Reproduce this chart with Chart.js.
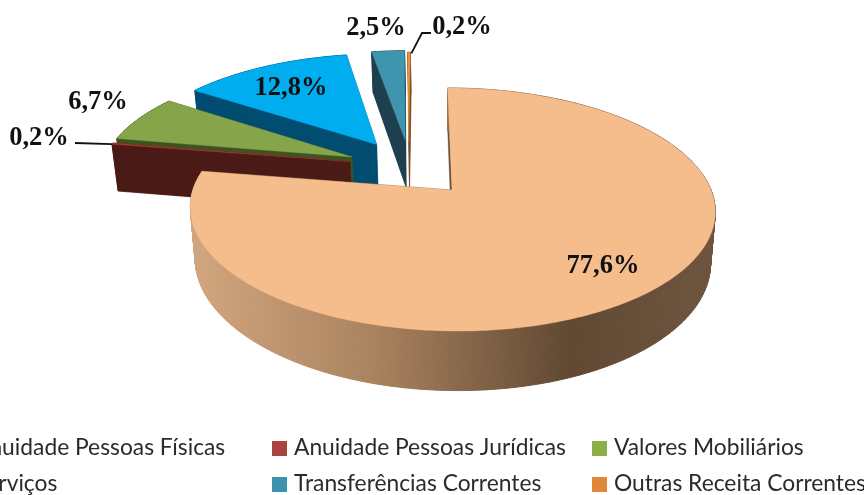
<!DOCTYPE html>
<html><head><meta charset="utf-8">
<style>html,body{margin:0;padding:0;background:#fff;overflow:hidden}canvas{display:block;filter:blur(0.45px)}</style>
<script src="https://cdn.jsdelivr.net/npm/chart.js@4"></script>
</head><body><canvas id="c" width="864" height="495"></canvas>
<script>
const categories = ['Anuidade Pessoas Físicas','Anuidade Pessoas Jurídicas','Valores Mobiliários','Serviços','Transferências Correntes','Outras Receita Correntes'];
const shares = [77.6,0.2,6.7,12.8,2.5,0.2];
const topColors = ['#F5BC8C','#A5392E','#86A44A','#00ADEF','#3F94AE','#E8933F'];
const wallColors = [null,'#4A1B16','#3F5222','#004D71','#1E3F4D','#7A4A20'];
const legendColors = ['#F79646','#AB4340','#8CAD47','#00ADEF','#3D93AE','#E0873A'];
const explodeU = [0,-0.405,-0.398,-0.302,-0.185,-0.17];
const explodeV = [0,-0.25,-0.292,-0.41,-0.45,-0.43];
const labelX = [603,39,98,291,376,462];
const labelY = [273,145,109,95,35,34];
const legendColX = [-26,294,614];
const legendRowY = [448,484];

const A=259,B=-67.5,E=87.9,H=-0.1605,DEPTH=50,SQUEEZE=0.018;
function project(cx,cy,u,v){const d=1+H*v;return {x:(cx+A*u+B*v)/d,y:(cy+E*v)/d,v};}
function sink(cx,p){return {x:p.x+(cx-p.x)*SQUEEZE,y:p.y+DEPTH/(1+H*p.v)};}
function poly(ctx,pts,fill,lw){ctx.beginPath();pts.forEach((p,i)=>i?ctx.lineTo(p.x,p.y):ctx.moveTo(p.x,p.y));ctx.closePath();ctx.fillStyle=fill;ctx.fill();if(lw){ctx.strokeStyle=fill;ctx.lineWidth=lw;ctx.stroke();}}

const pie3d={id:'pie3d',
 beforeDatasetDraw(chart){
  const ctx=chart.ctx,arcs=chart.getDatasetMeta(0).data;
  ctx.save();
  for(let i=arcs.length-1;i>=0;i--){
   const a=arcs[i],du=explodeU[i],dv=explodeV[i],n=Math.max(2,Math.ceil((a.endAngle-a.startAngle)*90));
   const rim=[];
   for(let k=0;k<=n;k++){const t=a.startAngle+(a.endAngle-a.startAngle)*k/n;rim.push(project(a.x,a.y,du+Math.cos(t),dv+Math.sin(t)));}
   const apex=project(a.x,a.y,du,dv);
   const top=[apex,...rim];
   const low=top.map(p=>sink(a.x,p));
   const last=top.length-1;
   let wall=wallColors[i],cut=wallColors[i];
   if(i===0){const g=ctx.createLinearGradient(191,0,717,0);
    g.addColorStop(0,'#D2A67E');g.addColorStop(0.35,'#A9825F');g.addColorStop(0.72,'#604832');g.addColorStop(1,'#6F5540');wall=g;cut='#6B4E36';}
   poly(ctx,[top[0],top[1],low[1],low[0]],cut,0.4);
   poly(ctx,[top[0],top[last],low[last],low[0]],cut,0.4);
   for(let k=1;k<last;k++)poly(ctx,[top[k],top[k+1],low[k+1],low[k]],wall,1);
   if(i!==0)poly(ctx,low,wall,0.4);
   poly(ctx,top,topColors[i],0.4);
  }
  ctx.restore();
  return false;
 },
 afterDraw(chart){
  const ctx=chart.ctx;
  ctx.save();
  ctx.strokeStyle='#111';ctx.lineWidth=1.8;
  const arcs=chart.getDatasetMeta(0).data;
  const leftEnd=project(arcs[1].x,arcs[1].y,explodeU[1]+Math.cos(arcs[1].startAngle),explodeV[1]+Math.sin(arcs[1].startAngle));
  const topEnd=project(arcs[5].x,arcs[5].y,explodeU[5]+Math.cos(arcs[5].endAngle),explodeV[5]+Math.sin(arcs[5].endAngle));
  ctx.beginPath();ctx.moveTo(labelX[1]+36,labelY[1]-2);ctx.lineTo(leftEnd.x,leftEnd.y);ctx.stroke();
  ctx.beginPath();ctx.moveTo(topEnd.x+1,topEnd.y+1);ctx.lineTo(labelX[5]-40,labelY[5]-1);ctx.lineTo(labelX[5]-31,labelY[5]-1);ctx.stroke();
  ctx.fillStyle='#111';ctx.textAlign='center';ctx.textBaseline='alphabetic';
  ctx.font='bold 26.5px "Liberation Serif"';
  shares.forEach((s,i)=>ctx.fillText(s.toFixed(1).replace('.',',')+'%',labelX[i],labelY[i]));
  ctx.textAlign='left';ctx.textBaseline='middle';
  ctx.font='22.8px Lato';
  categories.forEach((c,i)=>{
   const col=legendColX[i%3],y=legendRowY[Math.floor(i/3)];
   ctx.fillStyle=legendColors[i];ctx.fillRect(col-22,y-7,15,15);
   ctx.fillStyle='#2b2b2b';ctx.fillText(c,col,y);
  });
  ctx.restore();
 }};

new Chart(document.getElementById('c'),{
 type:'pie',
 data:{labels:categories,datasets:[{data:shares,backgroundColor:topColors,borderWidth:0}]},
 options:{responsive:false,animation:false,events:[],
  layout:{padding:{left:40,right:0,top:0,bottom:115}},
  plugins:{legend:{display:false},tooltip:{enabled:false}}},
 plugins:[pie3d]
});
</script></body></html>
